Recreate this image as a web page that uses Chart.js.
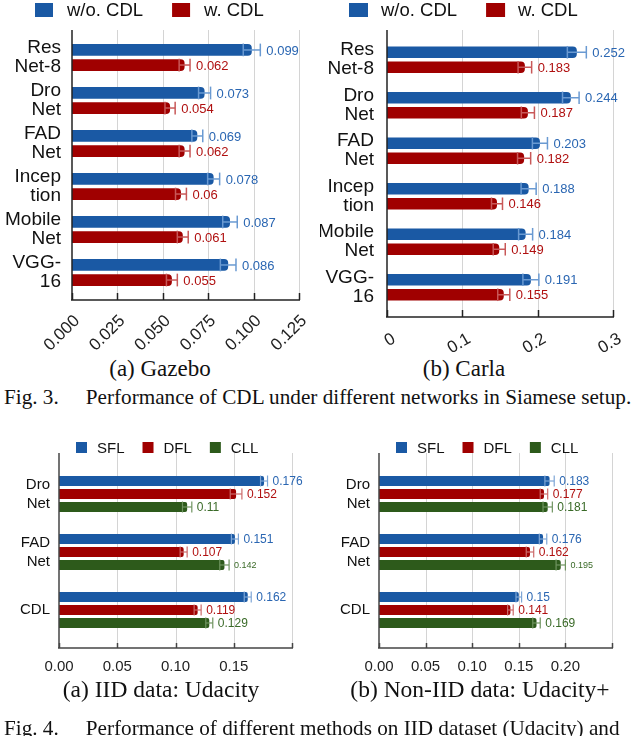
<!DOCTYPE html>
<html>
<head>
<meta charset="utf-8">
<script src="https://cdn.jsdelivr.net/npm/chart.js@4.4.1/dist/chart.umd.min.js"></script>
<style>
  body { margin: 0; background: #fff; width: 640px; height: 736px; overflow: hidden; position: relative; }
  .pane { position: absolute; }
  .cap { position: absolute; font-family: "Liberation Serif", "Times New Roman", serif; font-size: 21.2px; line-height: 24px; color: #111; white-space: nowrap; }
  .sub { text-align: center; font-size: 23px; }
  .sub4 { font-size: 23.5px; }
</style>
</head>
<body>
<div class="pane" style="left:0;top:0"><canvas id="gazebo" width="320" height="352"></canvas></div>
<div class="pane" style="left:320px;top:0"><canvas id="carla" width="320" height="352"></canvas></div>
<div class="pane" style="left:0;top:430px"><canvas id="iid" width="320" height="250"></canvas></div>
<div class="pane" style="left:320px;top:430px"><canvas id="noniid" width="320" height="250"></canvas></div>

<div class="cap sub" style="left:60px;width:200px;top:357px">(a) Gazebo</div>
<div class="cap sub" style="left:364px;width:200px;top:357px">(b) Carla</div>
<div class="cap" style="left:4px;top:385px">Fig. 3.<span style="margin-left:27px">Performance of CDL under different networks in Siamese setup.</span></div>
<div class="cap sub sub4" style="left:11px;width:300px;top:677px">(a) IID data: Udacity</div>
<div class="cap sub sub4" style="left:330px;width:300px;top:677px">(b) Non-IID data: Udacity+</div>
<div class="cap" style="left:4px;top:716px">Fig. 4.<span style="margin-left:27px">Performance of different methods on IID dataset (Udacity) and</span></div>

<script>
// ---- data: Fig. 3 (Siamese setup) ----
const networks = [['Res', 'Net-8'], ['Dro', 'Net'], ['FAD', 'Net'], ['Incep', 'tion'], ['Mobile', 'Net'], ['VGG-', '16']];

const gazeboWithout = [0.099, 0.073, 0.069, 0.078, 0.087, 0.086];
const gazeboWithoutErr = [0.0047, 0.0033, 0.003, 0.0033, 0.004, 0.0043];
const gazeboWith = [0.062, 0.054, 0.062, 0.06, 0.061, 0.055];
const gazeboWithErr = [0.003, 0.0028, 0.003, 0.003, 0.003, 0.003];
const gazeboTicks = [0, 0.025, 0.05, 0.075, 0.1, 0.125];
const gazeboTickLabels = ['0.000', '0.025', '0.050', '0.075', '0.100', '0.125'];

const carlaWithout = [0.252, 0.244, 0.203, 0.188, 0.184, 0.191];
const carlaWithoutErr = [0.0126, 0.011, 0.01, 0.01, 0.0093, 0.0106];
const carlaWith = [0.183, 0.187, 0.182, 0.146, 0.149, 0.155];
const carlaWithErr = [0.009, 0.0087, 0.0087, 0.0073, 0.008, 0.008];
const carlaTicks = [0, 0.1, 0.2, 0.3];
const carlaTickLabels = ['0', '0.1', '0.2', '0.3'];

// ---- data: Fig. 4 (federated methods) ----
const methods = [['Dro', 'Net'], ['FAD', 'Net'], 'CDL'];

const iidSFL = [0.176, 0.151, 0.162];
const iidSFLErr = [0.003, 0.003, 0.003];
const iidDFL = [0.152, 0.107, 0.119];
const iidDFLErr = [0.005, 0.003, 0.003];
const iidCLL = [0.11, 0.142, 0.129];
const iidCLLErr = [0.004, 0.004, 0.003];
const iidTicks = [0, 0.05, 0.1, 0.15, 0.2];
const iidTickLabels = ['0.00', '0.05', '0.10', '0.15', ''];

const nonSFL = [0.183, 0.176, 0.15];
const nonSFLErr = [0.005, 0.004, 0.003];
const nonDFL = [0.177, 0.162, 0.141];
const nonDFLErr = [0.004, 0.004, 0.003];
const nonCLL = [0.181, 0.195, 0.169];
const nonCLLErr = [0.005, 0.005, 0.004];
const nonTicks = [0, 0.05, 0.1, 0.15, 0.2, 0.25];
const nonTickLabels = ['0.00', '0.05', '0.10', '0.15', '0.20', ''];

const BLUE = '#1a59a4', RED = '#a00000', GREEN = '#2d5a1b';
const SANS = '"Liberation Sans", Arial, sans-serif';

function line(ctx, x1, y1, x2, y2) {
  ctx.beginPath(); ctx.moveTo(x1, y1); ctx.lineTo(x2, y2); ctx.stroke();
}

// grid, axes, error bars, value labels and legend
const decor = {
  id: 'decor',
  beforeDatasetsDraw(chart, args, o) {
    const ctx = chart.ctx, a = chart.chartArea, xs = chart.scales.x;
    const top = a.top - o.extTop, bot = a.bottom + o.extBottom;
    ctx.save();
    ctx.strokeStyle = o.gridColor; ctx.lineWidth = 1;
    xs.ticks.forEach(t => {
      if (t.value === 0) return;
      const px = Math.round(xs.getPixelForValue(t.value)) + 0.5;
      line(ctx, px, top, px, bot);
    });
    ctx.restore();
  },
  afterDatasetsDraw(chart, args, o) {
    const ctx = chart.ctx, a = chart.chartArea, xs = chart.scales.x;
    const top = a.top - o.extTop, bot = a.bottom + o.extBottom;
    ctx.save();
    ctx.strokeStyle = o.axisColor; ctx.lineWidth = o.axisWidth;
    line(ctx, a.left, top, a.left, bot);
    line(ctx, a.left - 1, bot, a.right + 1, bot);
    xs.ticks.forEach(t => {
      const px = Math.round(xs.getPixelForValue(t.value)) + 0.5;
      line(ctx, px, bot - o.tickLen, px, bot);
    });

    chart.data.datasets.forEach((ds, di) => {
      const meta = chart.getDatasetMeta(di);
      meta.data.forEach((bar, i) => {
        const v = ds.data[i], e = ds.errors[i];
        const lo = xs.getPixelForValue(v - e), hi = xs.getPixelForValue(v + e);
        const h = bar.height / 2 + 0.5;
        ctx.strokeStyle = ds.errColor; ctx.lineWidth = o.errWidth;
        line(ctx, lo, bar.y, hi, bar.y);
        line(ctx, lo, bar.y - h, lo, bar.y + h);
        line(ctx, hi, bar.y - h, hi, bar.y + h);
        const small = o.small.some(p => p[0] === di && p[1] === i);
        ctx.font = (small ? o.smallSize : o.labelSize) + 'px ' + SANS;
        ctx.fillStyle = ds.labelColor;
        ctx.textAlign = 'left'; ctx.textBaseline = 'middle';
        ctx.fillText(String(v), hi + o.labelGap, bar.y + 1);
      });
    });
    ctx.restore();
  },
  afterDraw(chart, args, o) {
    const ctx = chart.ctx, lg = o.legend;
    let x = lg.x;
    ctx.save();
    ctx.font = lg.size + 'px ' + SANS;
    ctx.textAlign = 'left'; ctx.textBaseline = 'middle';
    chart.data.datasets.forEach(ds => {
      ctx.fillStyle = ds.backgroundColor;
      ctx.fillRect(x, lg.y - lg.boxH / 2, lg.boxW, lg.boxH);
      x += lg.boxW + lg.gap;
      ctx.fillStyle = '#111';
      ctx.fillText(ds.label, x, lg.y + 1);
      x += ctx.measureText(ds.label).width + lg.spacing;
    });
    ctx.restore();
  }
};

function makeChart(id, c) {
  const canvas = document.getElementById(id);
  const W = canvas.width, H = canvas.height;
  return new Chart(canvas, {
    type: 'bar',
    data: { labels: c.labels, datasets: c.datasets },
    options: {
      indexAxis: 'y',
      responsive: false,
      animation: false,
      layout: { padding: { left: 0, top: c.area.top, right: W - c.area.right, bottom: 0 } },
      datasets: { bar: { categoryPercentage: c.catPct, barPercentage: c.barPct, borderRadius: c.radius, borderSkipped: 'start' } },
      scales: {
        x: {
          min: 0, max: c.ticks[c.ticks.length - 1],
          afterBuildTicks: s => { s.ticks = c.ticks.map(v => ({ value: v })); },
          afterFit: s => { s.height = H - c.area.bottom; s.paddingLeft = 0; s.paddingRight = 0; s.paddingTop = 0; s.paddingBottom = 0; },
          grid: { display: false, drawTicks: false },
          border: { display: false },
          ticks: {
            autoSkip: false, minRotation: c.rotation, maxRotation: c.rotation,
            padding: c.xPad, labelOffset: c.xShift, color: '#222', font: { family: SANS, size: c.xFont },
            callback: (v, i) => c.tickLabels[i]
          }
        },
        y: {
          afterFit: s => { s.width = c.area.left; s.paddingTop = 0; s.paddingBottom = 0; s.paddingLeft = 0; s.paddingRight = 0; },
          grid: { display: false, drawTicks: false },
          border: { display: false },
          ticks: { padding: c.yPad, color: '#111', font: { family: SANS, size: c.yFont, lineHeight: c.yLine } }
        }
      },
      plugins: {
        legend: { display: false },
        tooltip: { enabled: false },
        decor: c.decor
      }
    },
    plugins: [decor]
  });
}

function ds(label, data, errors, color, errColor, labelColor) {
  return { label: label, data: data, errors: errors, backgroundColor: color, errColor: errColor, labelColor: labelColor };
}

makeChart('gazebo', {
  labels: networks,
  datasets: [
    ds('w/o. CDL', gazeboWithout, gazeboWithoutErr, BLUE, '#6a9ad2', '#2a66b2'),
    ds('w. CDL', gazeboWith, gazeboWithErr, RED, '#c85858', '#b01010')
  ],
  ticks: gazeboTicks, tickLabels: gazeboTickLabels,
  area: { left: 72, right: 299, top: 36, bottom: 294 },
  catPct: 0.7, barPct: 0.78, radius: 4,
  rotation: 45, xPad: 17, xShift: 5, xFont: 17, yPad: 11, yFont: 19, yLine: 1.0,
  decor: {
    extTop: 6, extBottom: 6, gridColor: '#d4d4d4', axisColor: '#222', axisWidth: 1.5, tickLen: 7,
    errWidth: 1.5, labelSize: 13, smallSize: 13, labelGap: 6, small: [],
    legend: { x: 35, y: 10, boxW: 18, boxH: 14, gap: 14, spacing: 29, size: 18.5 }
  }
});

makeChart('carla', {
  labels: networks,
  datasets: [
    ds('w/o. CDL', carlaWithout, carlaWithoutErr, BLUE, '#6a9ad2', '#2a66b2'),
    ds('w. CDL', carlaWith, carlaWithErr, RED, '#c85858', '#b01010')
  ],
  ticks: carlaTicks, tickLabels: carlaTickLabels,
  area: { left: 67, right: 293, top: 37, bottom: 310 },
  catPct: 0.66, barPct: 0.77, radius: 4,
  rotation: 30, xPad: 19, xShift: 7, xFont: 17, yPad: 13, yFont: 19, yLine: 1.0,
  decor: {
    extTop: 7, extBottom: 7, gridColor: '#d4d4d4', axisColor: '#222', axisWidth: 1.5, tickLen: 7,
    errWidth: 1.5, labelSize: 13, smallSize: 13, labelGap: 6, small: [],
    legend: { x: 29, y: 10, boxW: 19, boxH: 14, gap: 13, spacing: 29, size: 18.5 }
  }
});

makeChart('iid', {
  labels: methods,
  datasets: [
    ds('SFL', iidSFL, iidSFLErr, BLUE, '#7ea6d6', '#2a66b2'),
    ds('DFL', iidDFL, iidDFLErr, RED, '#cc6a6a', '#b01010'),
    ds('CLL', iidCLL, iidCLLErr, GREEN, '#6f9460', '#3a6a28')
  ],
  ticks: iidTicks, tickLabels: iidTickLabels,
  area: { left: 59, right: 292, top: 35, bottom: 209 },
  catPct: 0.672, barPct: 0.77, radius: 2,
  rotation: 0, xPad: 19, xShift: 0, xFont: 15, yPad: 9, yFont: 15, yLine: 1.27,
  decor: {
    extTop: 12, extBottom: 9, gridColor: '#d4d4d4', axisColor: '#444', axisWidth: 1.5, tickLen: 5,
    errWidth: 1.2, labelSize: 12, smallSize: 9, labelGap: 5, small: [[2, 1]],
    legend: { x: 76, y: 17.5, boxW: 11, boxH: 11, gap: 10, spacing: 18, size: 15 }
  }
});

makeChart('noniid', {
  labels: methods,
  datasets: [
    ds('SFL', nonSFL, nonSFLErr, BLUE, '#7ea6d6', '#2a66b2'),
    ds('DFL', nonDFL, nonDFLErr, RED, '#cc6a6a', '#b01010'),
    ds('CLL', nonCLL, nonCLLErr, GREEN, '#6f9460', '#3a6a28')
  ],
  ticks: nonTicks, tickLabels: nonTickLabels,
  area: { left: 59, right: 292, top: 35, bottom: 209 },
  catPct: 0.672, barPct: 0.77, radius: 2,
  rotation: 0, xPad: 19, xShift: 0, xFont: 15, yPad: 9, yFont: 15, yLine: 1.27,
  decor: {
    extTop: 12, extBottom: 9, gridColor: '#d4d4d4', axisColor: '#444', axisWidth: 1.5, tickLen: 5,
    errWidth: 1.2, labelSize: 12, smallSize: 9, labelGap: 5, small: [[2, 1]],
    legend: { x: 76, y: 17.5, boxW: 11, boxH: 11, gap: 10, spacing: 18, size: 15 }
  }
});
</script>
</body>
</html>
